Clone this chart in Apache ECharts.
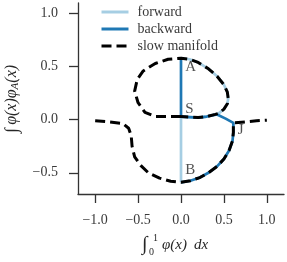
<!DOCTYPE html>
<html>
<head>
<meta charset="utf-8">
<script src="https://cdn.jsdelivr.net/npm/echarts@6/dist/echarts.min.js"></script>
<style>
html,body{margin:0;padding:0;background:#fff;}
#c{width:287px;height:262px;}
</style>
</head>
<body>
<div id="c"></div>
<script>
// ---- data ----
var xTicks = [-1.0, -0.5, 0.0, 0.5, 1.0];
var yTicks = [-0.5, 0.0, 0.5, 1.0];

var forward = [[0,0.58],[0.1,0.57],[0.2,0.54],[0.32,0.48],[0.42,0.41],[0.5,0.33],[0.54,0.26],[0.55,0.2],[0.54,0.15],[0.5,0.1],[0.44,0.06],[0.4,0.05],[0.3,0.03],[0.2,0.02],[0.1,0.025],[0,0.03],[0,-0.59]];

var backward = [[0,-0.59],[0.11,-0.575],[0.22,-0.545],[0.32,-0.5],[0.42,-0.44],[0.5,-0.37],[0.56,-0.29],[0.6,-0.2],[0.61,-0.12],[0.61,-0.03],[0.52,0.01],[0.42,0.05],[0.3,0.03],[0.2,0.02],[0.1,0.025],[0,0.03],[0,0.57]];

var slowUpper = [[0,0.03],[-0.15,0.03],[-0.3,0.03],[-0.42,0.07],[-0.5,0.16],[-0.54,0.27],[-0.51,0.38],[-0.44,0.46],[-0.3,0.53],[-0.15,0.57],[0,0.58],[0.1,0.57],[0.2,0.54],[0.32,0.48],[0.42,0.41],[0.5,0.33],[0.54,0.26],[0.55,0.2],[0.54,0.15],[0.5,0.1],[0.44,0.06],[0.4,0.05],[0.3,0.03],[0.2,0.02],[0.1,0.025],[0,0.03]];

var slowLower = [[-1.0,-0.01],[-0.85,-0.02],[-0.68,-0.035],[-0.61,-0.08],[-0.58,-0.15],[-0.57,-0.25],[-0.54,-0.35],[-0.47,-0.43],[-0.38,-0.5],[-0.25,-0.55],[-0.12,-0.58],[0,-0.59],[0.11,-0.575],[0.22,-0.545],[0.32,-0.5],[0.42,-0.44],[0.5,-0.37],[0.56,-0.29],[0.6,-0.2],[0.61,-0.12],[0.61,-0.03],[0.75,-0.02],[0.88,-0.01],[1.0,-0.005]];

var pointLabels = [[0.05,0.5,'A'],[0.05,0.1,'S'],[0.05,-0.47,'B'],[0.66,-0.1,'J']];

var seriesNames = ['forward','backward','slow manifold'];

// ---- chart ----
var SERIF = '"Liberation Serif","DejaVu Serif",serif';
var chart = echarts.init(document.getElementById('c'), null, {renderer:'canvas'});
function fmt(v){ return v.toFixed(1).replace('-', '\u2212'); }

var dashStyle = {color:'#000', width:3, type:[10,5], cap:'butt'};

chart.setOption({
  animation:false,
  backgroundColor:'#fff',
  grid:{left:78, right:3, top:3, bottom:68, containLabel:false},
  legend:{
    left:95, top:0, orient:'vertical', itemWidth:27, itemHeight:14, itemGap:3,
    data:seriesNames,
    itemStyle:{opacity:0},
    lineStyle:{width:3},
    textStyle:{fontFamily:SERIF, fontSize:14, color:'#3a3a3a', padding:[0,0,0,4]}
  },
  xAxis:{
    type:'value', min:-1.2, max:1.2,
    axisLine:{onZero:false, lineStyle:{color:'#333', width:1.3}},
    axisTick:{length:9, lineStyle:{color:'#333', width:1.3}, customValues:xTicks},
    axisLabel:{customValues:xTicks, formatter:fmt, margin:19, fontFamily:SERIF, fontSize:14, color:'#3a3a3a'},
    splitLine:{show:false}
  },
  yAxis:{
    type:'value', min:-0.7, max:1.1,
    axisLine:{onZero:false, lineStyle:{color:'#333', width:1.3}},
    axisTick:{length:9, lineStyle:{color:'#333', width:1.3}, customValues:yTicks},
    axisLabel:{customValues:yTicks, formatter:fmt, margin:20, fontFamily:SERIF, fontSize:14, color:'#3a3a3a'},
    splitLine:{show:false}
  },
  series:[
    {name:'forward', type:'line', data:forward, symbol:'none', lineStyle:{color:'#a6cee3', width:2.7}, itemStyle:{color:'#a6cee3'}, z:2},
    {name:'backward', type:'line', data:backward, symbol:'none', lineStyle:{color:'#1f78b4', width:2.7}, itemStyle:{color:'#1f78b4'}, z:3},
    {name:'slow manifold', type:'line', data:slowUpper, symbol:'none', lineStyle:dashStyle, itemStyle:{color:'#000'}, z:4},
    {name:'slow manifold', type:'line', data:slowLower, symbol:'none', lineStyle:dashStyle, itemStyle:{color:'#000'}, z:4},
    {type:'scatter', data:pointLabels, symbolSize:0, silent:true, z:5,
     label:{show:true, position:[0,0], align:'left', verticalAlign:'middle', fontFamily:SERIF, fontSize:15, color:'#262626',
       formatter:function(p){return p.data[2];}}}
  ],
  graphic:[
    {type:'text', x:12, y:99, rotation:Math.PI/2,
     style:{text:'{i|\u222B} {m|\u03C6(x)\u03C6}{s|A}{m|(x)}', align:'center', verticalAlign:'middle', fill:'#262626',
       rich:{i:{fontFamily:SERIF, fontSize:18, fontStyle:'italic'}, m:{fontFamily:SERIF, fontSize:16, fontStyle:'italic'}, s:{fontFamily:SERIF, fontSize:11, fontStyle:'italic', verticalAlign:'bottom', padding:[7,0,0,0]}}}},
    {type:'text', x:142, y:245, style:{text:'\u222B', font:'20px '+SERIF, fill:'#262626', verticalAlign:'middle'}},
    {type:'text', x:153, y:238, style:{text:'1', font:'10px '+SERIF, fill:'#262626', verticalAlign:'middle'}},
    {type:'text', x:149, y:252, style:{text:'0', font:'10px '+SERIF, fill:'#262626', verticalAlign:'middle'}},
    {type:'text', x:162, y:245, style:{text:'\u03C6(x)', font:'italic 15px '+SERIF, fill:'#262626', verticalAlign:'middle'}},
    {type:'text', x:194, y:245, style:{text:'dx', font:'italic 15px '+SERIF, fill:'#262626', verticalAlign:'middle'}}
  ]
});
</script>
</body>
</html>
